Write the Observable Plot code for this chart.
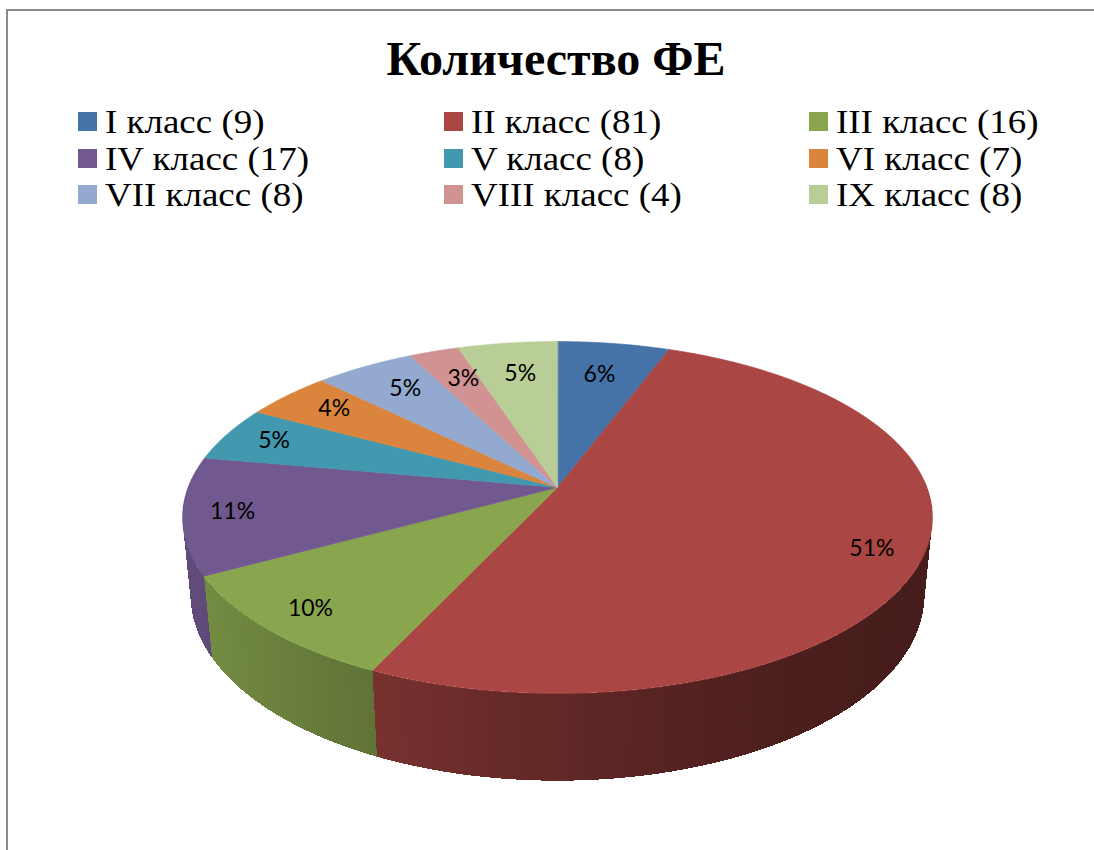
<!DOCTYPE html>
<html>
<head>
<meta charset="utf-8">
<script src="https://cdn.jsdelivr.net/npm/d3@7"></script>
<script src="https://cdn.jsdelivr.net/npm/@observablehq/plot@0.6"></script>
<style>
  html, body { margin: 0; padding: 0; background: #fff; }
  #wrap { position: relative; width: 1094px; height: 850px; overflow: hidden; background: #fff; }
  #frame { position: absolute; left: 6px; top: 9px; right: -10px; bottom: -10px;
           border-top: 2px solid #8a8a8a; border-left: 2px solid #8a8a8a; }
  #title { position: absolute; left: 0; width: 1112px; top: 35px; text-align: center;
           font-family: "Liberation Serif", "Times New Roman", serif; font-weight: bold; font-size: 48px; line-height: 48px; color: #000; }
  .item { position: absolute; font-family: "Liberation Serif", "Times New Roman", serif; font-size: 33px; line-height: 36px; color: #000; white-space: nowrap; }
  .sw { position: absolute; left: 0; top: 8px; width: 19px; height: 19px; }
  .lt { position: absolute; left: 27px; top: 0; transform: scaleX(1.12); transform-origin: 0 50%; }
  #chart { position: absolute; left: 0; top: 230px; }
</style>
</head>
<body>
<div id="wrap">
  <div id="frame"></div>
  <div id="title"></div>
  <div id="legend"></div>
  <div id="chart"></div>
</div>
<script>
// ---- data ----
const titleText = "Количество ФЕ";
const categories = ["I класс", "II класс", "III класс", "IV класс", "V класс", "VI класс", "VII класс", "VIII класс", "IX класс"];
const values = [9, 81, 16, 17, 8, 7, 8, 4, 8];
const colors = ["#4572A7", "#AA4643", "#89A54E", "#71588F", "#4198AF", "#DB843D", "#93A9CF", "#D19392", "#B9CD96"];

// ---- title & legend ----
document.getElementById("title").textContent = titleText;
const legend = document.getElementById("legend");
const colX = [78, 444, 809];
const rowTop = [104, 140.5, 177];
categories.forEach((c, i) => {
  const it = document.createElement("div");
  it.className = "item";
  it.style.left = colX[i % 3] + "px";
  it.style.top = rowTop[Math.floor(i / 3)] + "px";
  const sw = document.createElement("div");
  sw.className = "sw";
  sw.style.background = colors[i];
  const t = document.createElement("div");
  t.className = "lt";
  t.textContent = `${c} (${values[i]})`;
  it.appendChild(sw); it.appendChild(t);
  legend.appendChild(it);
});

// ---- 3D pie geometry (perspective projection) ----
const W = 1094, H = 620;
const cx = 557, cy = 257, D = 5.2, F = 1921, sinA = 0.4625, cosA = Math.sqrt(1 - sinA * sinA), TH = 0.24;
function proj(px, py, pz) {
  const v = py * sinA + pz * cosA;
  const d = D + py * cosA - pz * sinA;
  return [cx + F * px / d, cy - F * v / d];
}
const total = d3.sum(values);
const pie = d3.pie().sort(null).value(d => d)(values);
const STEP = Math.PI / 360;

// top faces
const topData = [];
pie.forEach((s, i) => {
  const [x0, y0] = proj(0, 0, 0);
  topData.push({id: i, x: x0, y: y0, c: colors[i]});
  const n = Math.max(2, Math.ceil((s.endAngle - s.startAngle) / STEP));
  for (let k = 0; k <= n; k++) {
    const a = s.startAngle + (s.endAngle - s.startAngle) * k / n;
    const [x, y] = proj(Math.sin(a), Math.cos(a), 0);
    topData.push({id: i, x, y, c: colors[i]});
  }
});

// side wall strips (shaded from left to right)
const ext = F / D / Math.sqrt(1 - (cosA / D) ** 2);
const xL = cx - ext, xR = cx + ext;
function shade(base, x) {
  const t = Math.max(0, Math.min(1, (x - xL) / (xR - xL)));
  const f = 0.41 + 0.45 * Math.pow(1 - t, 1.5);
  return d3.rgb(base.r * f, base.g * f, base.b * f).formatHex();
}
const strips = [];
pie.forEach((s, i) => {
  const n = Math.max(1, Math.ceil((s.endAngle - s.startAngle) / STEP));
  const base = d3.rgb(colors[i]);
  const da = (s.endAngle - s.startAngle) / n;
  for (let k = 0; k < n; k++) {
    const a0 = s.startAngle + da * k;
    const a1 = Math.min(s.endAngle, a0 + da * 1.6);
    const am = a0 + da / 2;
    if (Math.cos(am) > 0.05) continue;
    const p = [
      proj(Math.sin(a0), Math.cos(a0), 0),
      proj(Math.sin(a1), Math.cos(a1), 0),
      proj(Math.sin(a1), Math.cos(a1), -TH),
      proj(Math.sin(a0), Math.cos(a0), -TH)
    ];
    const xm = (p[0][0] + p[1][0]) / 2;
    const depth = D + Math.cos(am) * cosA;
    strips.push({depth, p, col: shade(base, xm)});
  }
});
strips.sort((a, b) => b.depth - a.depth);
const wallData = [];
strips.forEach((s, j) => s.p.forEach(([x, y]) => wallData.push({id: j, x, y, c: s.col})));

// labels (best-fit style radius: closer to centre toward the back)
const labels = pie.map((s, i) => {
  const m = (s.startAngle + s.endAngle) / 2;
  const c = Math.max(0, Math.cos(m));
  const r = 0.87 - 0.16 * c * c;
  const [x, y] = proj(r * Math.sin(m), r * Math.cos(m), 0);
  return {x, y: y - 6 * c * c, text: Math.round(values[i] / total * 100) + "%"};
});

const chart = Plot.plot({
  width: W, height: H, margin: 0,
  x: {domain: [0, W], range: [0, W], axis: null},
  y: {domain: [0, H], range: [0, H], axis: null},
  color: {type: "identity"},
  style: {background: "transparent", overflow: "visible"},
  marks: [
    Plot.line(wallData, {x: "x", y: "y", z: "id", fill: "c", stroke: "none", curve: "linear-closed", shapeRendering: "crispEdges"}),
    Plot.line(topData, {x: "x", y: "y", z: "id", fill: "c", stroke: "c", strokeWidth: 0.6, curve: "linear-closed"}),
    Plot.text(labels, {x: "x", y: "y", text: "text", fill: "#000", fontSize: 23, fontFamily: "Lato, 'Open Sans', sans-serif"})
  ]
});
document.getElementById("chart").appendChild(chart);
</script>
</body>
</html>
